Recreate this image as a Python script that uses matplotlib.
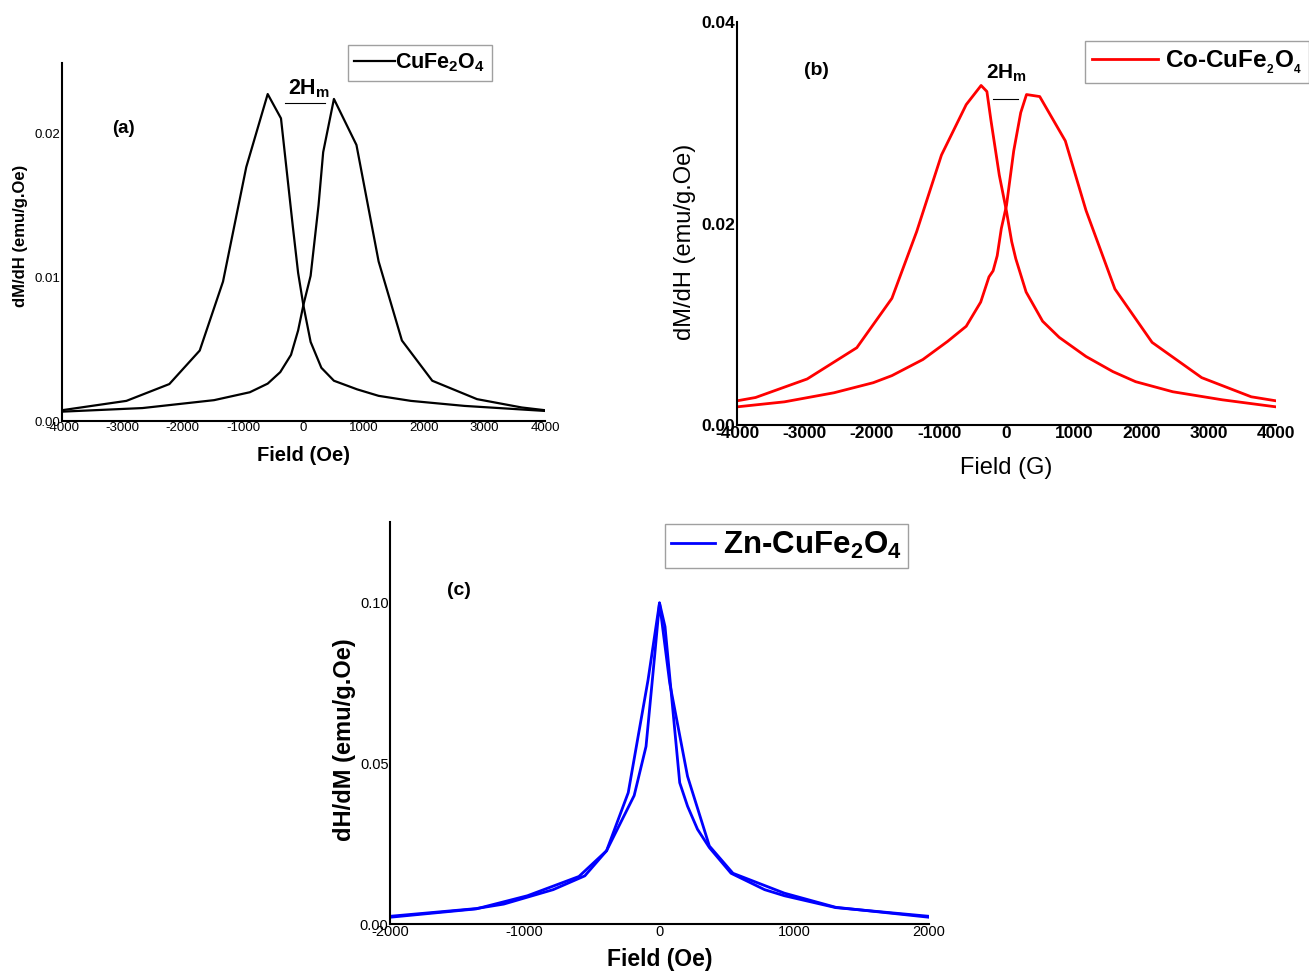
import matplotlib
matplotlib.use("Agg")
import matplotlib.pyplot as plt

plt.rcParams['font.family'] = ['Liberation Sans', 'DejaVu Sans']
plt.rcParams['mathtext.fontset'] = 'custom'
plt.rcParams['mathtext.rm'] = 'Liberation Sans'
plt.rcParams['mathtext.it'] = 'Liberation Sans'
plt.rcParams['mathtext.bf'] = 'Liberation Sans:bold'
plt.rcParams['axes.unicode_minus'] = False

# (a) CuFe2O4, two sweep branches
a_field_1 = [-4000, -2933, -2222, -1719, -1333, -948, -593, -373, -178, -89, 0, 118, 296, 504, 889, 1244, 1778, 2667, 4000]
a_dmdh_1 = [0.00075, 0.0014, 0.00257, 0.0049, 0.0097, 0.01766, 0.02274, 0.02105, 0.01357, 0.0103, 0.0080, 0.0055, 0.0037, 0.0028, 0.0022, 0.00175, 0.0014, 0.00105, 0.0007]
a_field_2 = [-4000, -2667, -1481, -889, -593, -385, -207, -89, 0, 118, 249, 326, 504, 877, 1244, 1630, 2133, 2874, 3615, 4000]
a_dmdh_2 = [0.00065, 0.0009, 0.00145, 0.0020, 0.0026, 0.0034, 0.0046, 0.0063, 0.0081, 0.0101, 0.0150, 0.0187, 0.0224, 0.0192, 0.0111, 0.0056, 0.0028, 0.00152, 0.00094, 0.00075]

# (b) Co-CuFe2O4
b_field_1 = [-4000, -3724, -2958, -2222, -1701, -1333, -965, -598, -377, -291, -230, -107, 0, 77, 138, 291, 536, 782, 1180, 1579, 1916, 2468, 3203, 4000]
b_dmdh_1 = [0.0024, 0.00273, 0.00457, 0.00767, 0.01257, 0.0192, 0.0268, 0.0318, 0.0337, 0.0331, 0.0302, 0.0248, 0.0212, 0.0182, 0.0165, 0.0132, 0.0103, 0.0087, 0.0068, 0.0053, 0.0043, 0.0033, 0.0025, 0.0018]
b_field_2 = [-4000, -3295, -2560, -1977, -1701, -1241, -874, -598, -383, -260, -199, -138, -77, 0, 107, 211, 297, 493, 873, 1180, 1609, 2161, 2897, 3632, 4000]
b_dmdh_2 = [0.0018, 0.0023, 0.0032, 0.0042, 0.0049, 0.0065, 0.0083, 0.0098, 0.0122, 0.0147, 0.0153, 0.0168, 0.0195, 0.0218, 0.0272, 0.0310, 0.0328, 0.0326, 0.0282, 0.0213, 0.0135, 0.0082, 0.0047, 0.0028, 0.0024]

# (c) Zn-CuFe2O4
c_field_1 = [-2000, -1361, -1156, -789, -554, -393, -232, -85, 0, 41, 150, 208, 282, 370, 531, 780, 927, 1308, 2000]
c_dhdm_1 = [0.0024, 0.0048, 0.0062, 0.0107, 0.0150, 0.0228, 0.0409, 0.0760, 0.1000, 0.0926, 0.0440, 0.0367, 0.0295, 0.0238, 0.0158, 0.0107, 0.0088, 0.0051, 0.0024]
c_field_2 = [-2000, -1361, -980, -598, -393, -188, -100, -35, 0, 76, 208, 370, 545, 927, 1308, 2000]
c_dhdm_2 = [0.0021, 0.0047, 0.0088, 0.0148, 0.0228, 0.0400, 0.0553, 0.0840, 0.1000, 0.0750, 0.0460, 0.0243, 0.0158, 0.0096, 0.0052, 0.0021]


def setup_axes( ax ):
    ax.spines['top'].set_visible( False )
    ax.spines['right'].set_visible( False )
    ax.spines['left'].set_linewidth( 1.5 )
    ax.spines['bottom'].set_linewidth( 1.5 )
    ax.tick_params( length=0, pad=1 )


def legend_box( ax, x, y, size, handlelength, borderpad, textpad ):
    leg = ax.legend( loc='upper left', bbox_to_anchor=(x / 1309, 1 - y / 971),
                     bbox_transform=fig.transFigure, borderaxespad=0,
                     fancybox=False, frameon=True, handlelength=handlelength,
                     handletextpad=textpad, borderpad=borderpad,
                     prop={'size': size, 'weight': 'bold'} )
    leg.get_frame().set_edgecolor( '#888888' )
    leg.get_frame().set_linewidth( 1.0 )


fig = plt.figure( figsize=(13.09, 9.71), dpi=100 )

# ---- (a)
ax_a = fig.add_axes( [62 / 1309, 1 - 421 / 971, 483 / 1309, 358 / 971] )
setup_axes( ax_a )
ax_a.plot( a_field_1, a_dmdh_1, color='black', lw=1.6, label=r'CuFe$_\mathbf{2}$O$_\mathbf{4}$' )
ax_a.plot( a_field_2, a_dmdh_2, color='black', lw=1.6 )
ax_a.set_xlim( -4000, 4000 )
ax_a.set_ylim( 0, 0.0249 )
ax_a.set_xticks( [-4000, -3000, -2000, -1000, 0, 1000, 2000, 3000, 4000] )
ax_a.set_yticks( [0.0, 0.01, 0.02] )
ax_a.set_yticklabels( ['0.00', '0.01', '0.02'] )
ax_a.tick_params( labelsize=9.5 )
ax_a.set_xlabel( 'Field (Oe)', fontsize=14.5, fontweight='bold', labelpad=8 )
ax_a.set_ylabel( 'dM/dH (emu/g.Oe)', fontsize=12, fontweight='bold', labelpad=5, y=0.517 )
ax_a.text( -3170, 0.02035, '(a)', fontsize=13.5, fontweight='bold', va='center' )
ax_a.text( 91, 0.0231, r'2H$_\mathbf{m}$', fontsize=15.5, fontweight='bold', ha='center', va='center' )
ax_a.plot( [-306, 356], [0.0221, 0.0221], color='black', lw=0.8 )
legend_box( ax_a, 348, 45, 15.5, 1.9, 0.3, 0.0 )

# ---- (b)
ax_b = fig.add_axes( [737 / 1309, 1 - 425 / 971, 539 / 1309, 403 / 971] )
setup_axes( ax_b )
ax_b.plot( b_field_1, b_dmdh_1, color='red', lw=2, label=r'Co-CuFe$_\mathbf{_2}$O$_\mathbf{_4}$' )
ax_b.plot( b_field_2, b_dmdh_2, color='red', lw=2 )
ax_b.set_xlim( -4000, 4000 )
ax_b.set_ylim( 0, 0.04 )
ax_b.set_xticks( [-4000, -3000, -2000, -1000, 0, 1000, 2000, 3000, 4000] )
ax_b.set_yticks( [0.0, 0.02, 0.04] )
ax_b.set_yticklabels( ['0.00', '0.02', '0.04'] )
for lab in ax_b.get_xticklabels() + ax_b.get_yticklabels():
    lab.set_fontweight( 'bold' )
    lab.set_fontsize( 12.5 )
ax_b.set_xlabel( 'Field (G)', fontsize=17, labelpad=11 )
ax_b.set_ylabel( 'dM/dH (emu/g.Oe)', fontsize=17, labelpad=4, y=0.454 )
ax_b.text( -3012, 0.0352, '(b)', fontsize=14, fontweight='bold', va='center' )
ax_b.text( 0, 0.0349, r'2H$_\mathbf{m}$', fontsize=15, fontweight='bold', ha='center', va='center' )
ax_b.plot( [-193, 178], [0.03236, 0.03236], color='black', lw=0.8 )
legend_box( ax_b, 1085, 41, 17.5, 2.7, 0.3, 0.3 )

# ---- (c)
ax_c = fig.add_axes( [390 / 1309, 1 - 924 / 971, 539 / 1309, 402 / 971] )
setup_axes( ax_c )
ax_c.plot( c_field_1, c_dhdm_1, color='blue', lw=2, label=r'Zn-CuFe$_\mathbf{2}$O$_\mathbf{4}$' )
ax_c.plot( c_field_2, c_dhdm_2, color='blue', lw=2 )
ax_c.set_xlim( -2000, 2000 )
ax_c.set_ylim( 0, 0.1252 )
ax_c.set_xticks( [-2000, -1000, 0, 1000, 2000] )
ax_c.set_yticks( [0.0, 0.05, 0.10] )
ax_c.set_yticklabels( ['0.00', '0.05', '0.10'] )
ax_c.tick_params( labelsize=10.5 )
ax_c.set_xlabel( 'Field (Oe)', fontsize=16.5, fontweight='bold', labelpad=6 )
ax_c.set_ylabel( 'dH/dM (emu/g.Oe)', fontsize=17, fontweight='bold', labelpad=3, y=0.458 )
ax_c.text( -1577, 0.104, '(c)', fontsize=14, fontweight='bold', va='center' )
legend_box( ax_c, 665, 524, 22.5, 1.4, 0.2, 0.26 )

fig.savefig( 'out.png', dpi=100 )
